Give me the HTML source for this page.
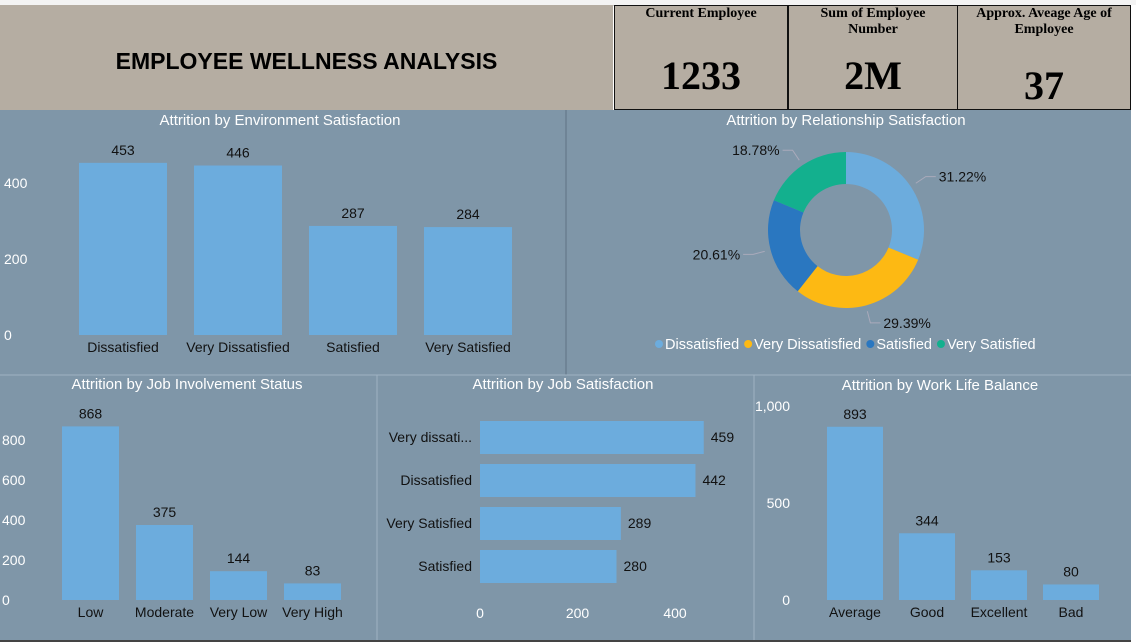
<!DOCTYPE html>
<html><head><meta charset="utf-8"><style>
body{margin:0;width:1136px;height:642px;background:#fff;position:relative;overflow:hidden;font-family:"Liberation Sans",sans-serif}
.abs{position:absolute}
.card{position:absolute;top:5px;height:103px;background:#b5ada2;border:1px solid #111;font-family:"Liberation Serif",serif;text-align:center}
.card .t{font-weight:bold;font-size:14px;line-height:16px;margin-top:0px}
.card .v{position:absolute;left:0;right:0;font-size:40px;font-weight:bold}
svg text{font-family:"Liberation Sans",sans-serif}
</style></head><body>
<div class="abs" style="left:0;top:0;width:1136px;height:5px;background:#f3f3f3;border-bottom:1px solid #ccc"></div>
<div class="abs" style="left:0;top:5px;width:613px;height:105px;background:#b5ada2;font-weight:bold;font-size:23px;line-height:112px;text-align:center">EMPLOYEE WELLNESS ANALYSIS</div>
<div class="card" style="left:614px;width:172px"><div class="t">Current Employee</div><div class="v" style="top:46px">1233</div></div>
<div class="card" style="left:788px;width:168px"><div class="t">Sum of Employee<br>Number</div><div class="v" style="top:46px">2M</div></div>
<div class="card" style="left:957px;width:172px"><div class="t">Approx. Aveage Age of<br>Employee</div><div class="v" style="top:56px">37</div></div>
<svg class="abs" style="left:0;top:110px" width="1131" height="532">
<rect x="0" y="0" width="1131" height="532" fill="#7f96a8"/>
<line x1="566" y1="0" x2="566" y2="265" stroke="#5f7283"/>
<line x1="0" y1="265" x2="1131" y2="265" stroke="#9fb2c2"/>
<line x1="377" y1="265" x2="377" y2="530" stroke="#9fb2c2"/>
<line x1="754" y1="265" x2="754" y2="530" stroke="#9fb2c2"/>
<rect x="0" y="530" width="1131" height="2" fill="#444"/>
<g id="g"></g>
</svg>
<div class="abs" style="left:1131px;top:5px;width:5px;height:637px;background:#fff"></div>
<script>
const envCats=["Dissatisfied","Very Dissatisfied","Satisfied","Very Satisfied"];
const envVals=[453,446,287,284];
const envTicks=[0,200,400];
const relCats=["Dissatisfied","Very Dissatisfied","Satisfied","Very Satisfied"];
const relVals=[31.22,29.39,20.61,18.78];
const jiCats=["Low","Moderate","Very Low","Very High"];
const jiVals=[868,375,144,83];
const jiTicks=[0,200,400,600,800];
const jsCats=["Very dissati...","Dissatisfied","Very Satisfied","Satisfied"];
const jsVals=[459,442,289,280];
const jsTicks=[0,200,400];
const wlCats=["Average","Good","Excellent","Bad"];
const wlVals=[893,344,153,80];
const wlTicks=[0,500,1000];
const wlTickLabels=["0","500","1,000"];

const NS="http://www.w3.org/2000/svg",G=document.getElementById('g');
function el(t,a,txt){const e=document.createElementNS(NS,t);for(const k in a)e.setAttribute(k,a[k]);if(txt!==undefined)e.textContent=txt;G.appendChild(e);return e;}
function title(x,y,s){const e=el('text',{x:x,y:y,'text-anchor':'middle','font-size':15,fill:'#fff'},s);

}
function vbar(cats,vals,ticks,tl,base,scale,x0,step,w,tx,ta,name){
 ticks.forEach((t,i)=>{const e=el('text',{x:tx,y:base-scale*t+5,'text-anchor':ta,'font-size':14,fill:'#fff'},tl?tl[i]:t);
 
 });
 cats.forEach((c,i)=>{const x=x0+i*step,h=scale*vals[i];
 const r=el('rect',{x:x,y:base-h,width:w,height:h,fill:'#6cacdd'});
 
 
 const v=el('text',{x:x+w/2,y:base-h-8,'text-anchor':'middle','font-size':14,fill:'#111'},vals[i]);
 
 
 const l=el('text',{x:x+w/2,y:base+17,'text-anchor':'middle','font-size':14,fill:'#111'},c);
 
 });
}
title(280,15,"Attrition by Environment Satisfaction");
vbar(envCats,envVals,envTicks,null,225,0.38,79,115,88,4,'start','env');
title(187,279,"Attrition by Job Involvement Status");
vbar(jiCats,jiVals,jiTicks,null,490,0.2,62,74,57,2,'start','ji');
title(940,280,"Attrition by Work Life Balance");
vbar(wlCats,wlVals,wlTicks,wlTickLabels,490,0.194,827,72,56,790,'end','wl');
// job satisfaction horizontal
title(563,279,"Attrition by Job Satisfaction");
const jx0=480,js=0.4875;
jsTicks.forEach(t=>{const e=el('text',{x:jx0+js*t,y:508,'text-anchor':'middle','font-size':14,fill:'#fff'},t);

});
jsCats.forEach((c,i)=>{const cy=327+i*43,w=js*jsVals[i];
const r=el('rect',{x:jx0,y:cy-16,width:w,height:33,fill:'#6cacdd'});


const v=el('text',{x:jx0+w+7,y:cy+5,'font-size':14,fill:'#111'},jsVals[i]);


const l=el('text',{x:472,y:cy+5,'text-anchor':'end','font-size':14,fill:'#111'},c);

});
// donut
title(846,15,"Attrition by Relationship Satisfaction");
const cols=["#6cacdd","#fdb913","#2a77c0","#13b08e"];
const cx=846,cy=120,R=78,r=46;let tot=relVals.reduce((a,b)=>a+b,0),a0=-Math.PI/2;
function pt(rad,a){return [cx+rad*Math.cos(a),cy+rad*Math.sin(a)];}
relVals.forEach((v,i)=>{const a1=a0+v/tot*2*Math.PI,lg=(a1-a0)>Math.PI?1:0;
const p1=pt(R,a0),p2=pt(R,a1),p3=pt(r,a1),p4=pt(r,a0);
const p=el('path',{d:`M${p1}L${p1}A${R},${R} 0 ${lg} 1 ${p2}L${p3}A${r},${r} 0 ${lg} 0 ${p4}Z`,fill:cols[i]});


const am=(a0+a1)/2,q=pt(R+6,am),q2=pt(R+18,am),right=Math.cos(am)>0;
el('polyline',{points:`${q} ${q2} ${q2[0]+(right?10:-10)},${q2[1]}`,fill:'none',stroke:'#aab',"stroke-width":1});
const t=el('text',{x:q2[0]+(right?13:-13),y:q2[1]+5,'text-anchor':right?'start':'end','font-size':14,fill:'#111'},v.toFixed(2)+'%');


a0=a1;});
let lx=655;
relCats.forEach((c,i)=>{el('circle',{cx:lx+4,cy:234,r:4,fill:cols[i]});
const t=el('text',{x:lx+10,y:239,'font-size':14.5,fill:'#fff'},c);


lx+=10+t.getComputedTextLength()+5;});
</script>
</body></html>
